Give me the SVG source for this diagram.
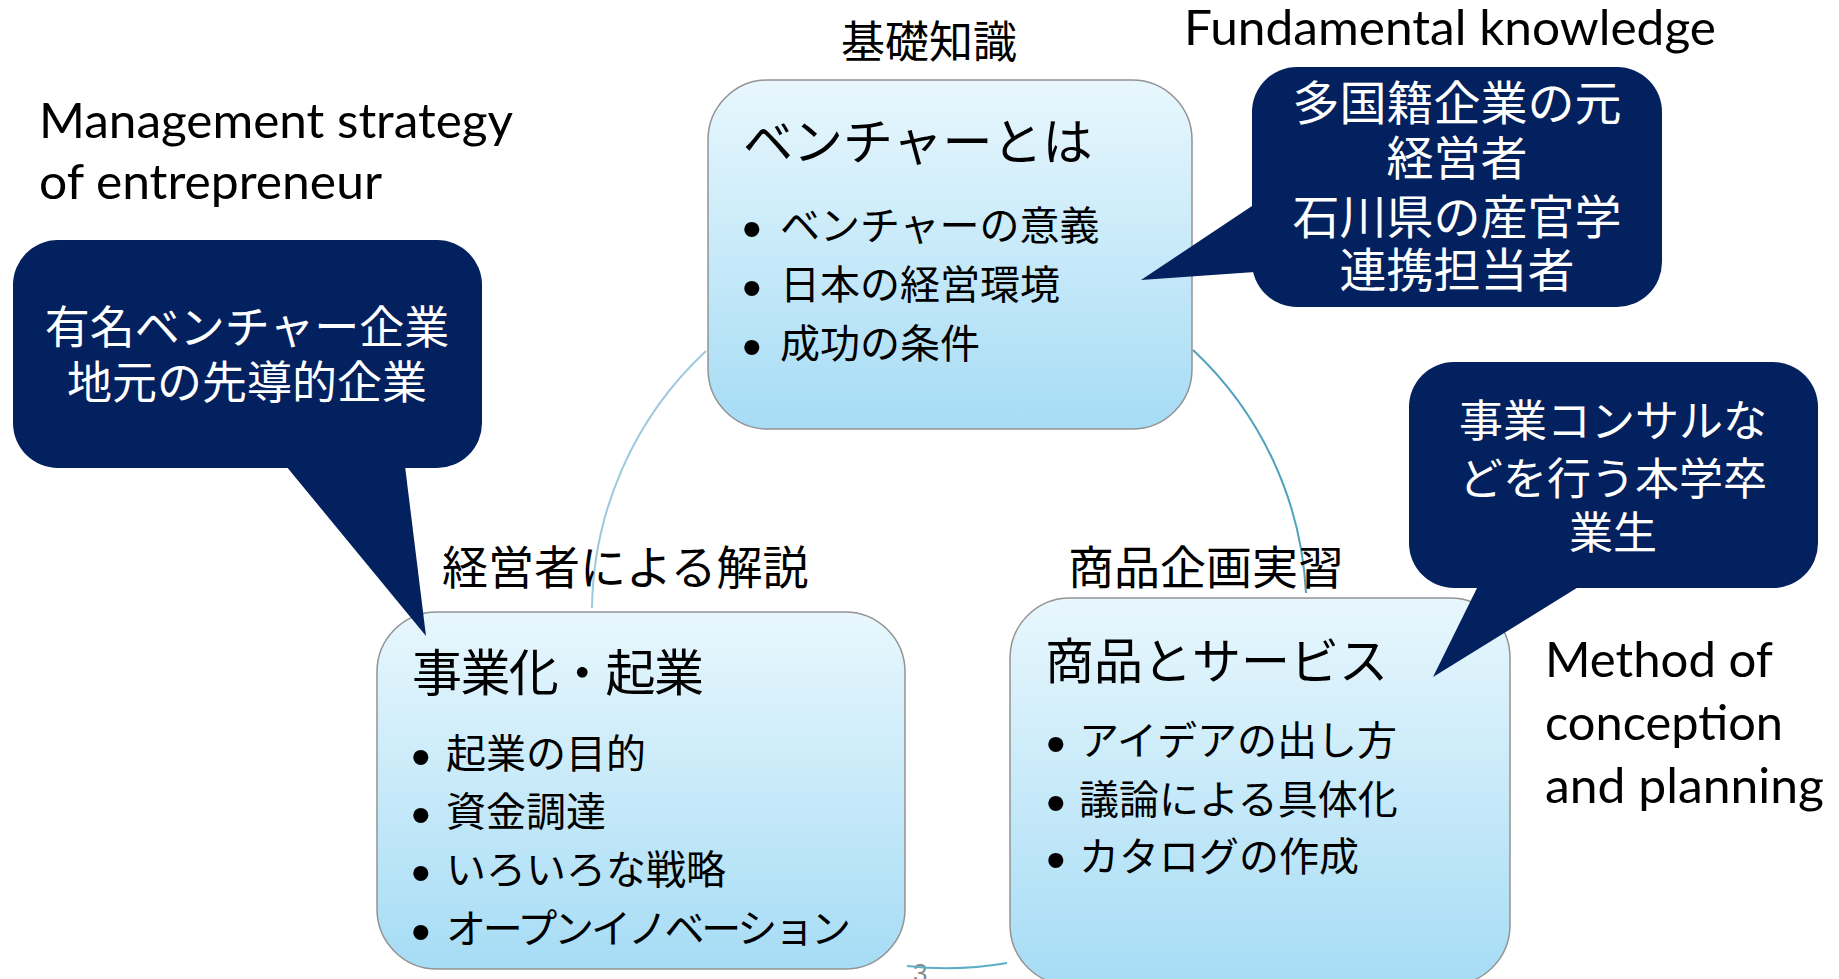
<svg xmlns="http://www.w3.org/2000/svg" width="1839" height="979" viewBox="0 0 1839 979">
  <style>
    .jp { font-family: "Noto Sans CJK JP", "Noto Sans CJK SC", sans-serif; fill: #000; }
    .en { font-family: Lato, "Liberation Sans", sans-serif; fill: #000; font-size: 48px; }
    .callout-txt { font-family: "Noto Sans CJK JP", "Noto Sans CJK SC", sans-serif; fill: #ffffff; text-anchor: middle; }
    .box { fill: url(#boxGrad); stroke: #939393; stroke-width: 1.5; }
    .callout { fill: #03215E; }
    .bul { font-family: "Liberation Sans", sans-serif; font-size: 56px; fill: #000; }
    .arc { fill: none; stroke-width: 2; }
  </style>
  <defs>
    <linearGradient id="boxGrad" x1="0" y1="0" x2="0" y2="1">
      <stop offset="0" stop-color="#e8f7fd"/>
      <stop offset="1" stop-color="#a6dcf5"/>
    </linearGradient>
  </defs>
  <rect width="1839" height="979" fill="#ffffff"/>

  <text x="913" y="982" font-family="Liberation Sans, sans-serif" font-size="26" fill="#8a8a8a">3</text>

  <g id="connectors">
    <path class="arc" stroke="#9cc9dd" d="M592,608 A357,357 0 0,1 706,351"/>
    <path class="arc" stroke="#4fa3bd" d="M1193,350 A357,357 0 0,1 1306,593"/>
    <path class="arc" stroke="#5eaec6" d="M907,966 A357,357 0 0,0 1007,963"/>
  </g>

  <g id="node-venture">
    <rect class="box" x="708" y="80" width="484" height="349" rx="60" ry="60"/>
    <text class="jp" x="743" y="160" font-size="50">ベンチャーとは</text>
    <text class="bul" x="742" y="248">•</text>
    <text class="jp" x="780" y="240" font-size="40">ベンチャーの意義</text>
    <text class="bul" x="742" y="307">•</text>
    <text class="jp" x="780" y="299" font-size="40">日本の経営環境</text>
    <text class="bul" x="742" y="366">•</text>
    <text class="jp" x="780" y="358" font-size="40">成功の条件</text>
  </g>

  <g id="node-business">
    <rect class="box" x="377" y="612" width="528" height="357" rx="60" ry="60"/>
    <text class="jp" x="412" y="691" font-size="50" textLength="292" lengthAdjust="spacing">事業化・起業</text>
    <text class="bul" x="411" y="776">•</text>
    <text class="jp" x="446" y="768" font-size="40">起業の目的</text>
    <text class="bul" x="411" y="834">•</text>
    <text class="jp" x="446" y="826" font-size="40">資金調達</text>
    <text class="bul" x="411" y="892">•</text>
    <text class="jp" x="446" y="884" font-size="40">いろいろな戦略</text>
    <text class="bul" x="411" y="951">•</text>
    <text class="jp" x="446" y="943" font-size="40" textLength="405" lengthAdjust="spacing">オープンイノベーション</text>
  </g>

  <g id="node-product">
    <rect class="box" x="1010" y="598" width="500" height="387" rx="60" ry="60"/>
    <text class="jp" x="1045" y="679" font-size="49">商品とサービス</text>
    <text class="bul" x="1046" y="763">•</text>
    <text class="jp" x="1079" y="755" font-size="40">アイデアの出し方</text>
    <text class="bul" x="1046" y="822">•</text>
    <text class="jp" x="1079" y="814" font-size="40">議論による具体化</text>
    <text class="bul" x="1046" y="879">•</text>
    <text class="jp" x="1079" y="871" font-size="40">カタログの作成</text>
  </g>

  <g id="callout-left">
    <rect class="callout" x="13" y="240" width="469" height="228" rx="45" ry="45"/>
    <polygon class="callout" points="286,466 405,466 426,636"/>
    <text class="callout-txt" x="247" y="344" font-size="45">有名ベンチャー企業</text>
    <text class="callout-txt" x="247" y="399" font-size="45">地元の先導的企業</text>
  </g>

  <g id="callout-topright">
    <rect class="callout" x="1252" y="67" width="410" height="240" rx="45" ry="45"/>
    <polygon class="callout" points="1141,280 1255,204 1255,272"/>
    <text class="callout-txt" x="1457" y="120" font-size="47">多国籍企業の元</text>
    <text class="callout-txt" x="1457" y="175" font-size="47">経営者</text>
    <text class="callout-txt" x="1457" y="234" font-size="47">石川県の産官学</text>
    <text class="callout-txt" x="1457" y="287" font-size="47">連携担当者</text>
  </g>

  <g id="callout-bottomright">
    <rect class="callout" x="1409" y="362" width="409" height="226" rx="45" ry="45"/>
    <polygon class="callout" points="1478,586 1580,586 1433,677"/>
    <text class="callout-txt" x="1613" y="437" font-size="44">事業コンサルな</text>
    <text class="callout-txt" x="1613" y="495" font-size="44">どを行う本学卒</text>
    <text class="callout-txt" x="1613" y="549" font-size="44">業生</text>
  </g>

  <g id="labels">
    <text class="jp" x="929" y="58" font-size="44" text-anchor="middle">基礎知識</text>
    <text class="jp" x="442" y="584" font-size="46">経営者による解説</text>
    <text class="jp" x="1068" y="584" font-size="46">商品企画実習</text>
    <text class="en" x="1184" y="45" textLength="532" lengthAdjust="spacingAndGlyphs">Fundamental knowledge</text>
    <text class="en" x="39" y="138" textLength="474" lengthAdjust="spacingAndGlyphs">Management strategy</text>
    <text class="en" x="39" y="199" textLength="343" lengthAdjust="spacingAndGlyphs">of entrepreneur</text>
    <text class="en" x="1545" y="677" textLength="228" lengthAdjust="spacingAndGlyphs">Method of</text>
    <text class="en" x="1545" y="740" textLength="238" lengthAdjust="spacingAndGlyphs">conception</text>
    <text class="en" x="1545" y="803" textLength="279" lengthAdjust="spacingAndGlyphs">and planning</text>
  </g>
</svg>
